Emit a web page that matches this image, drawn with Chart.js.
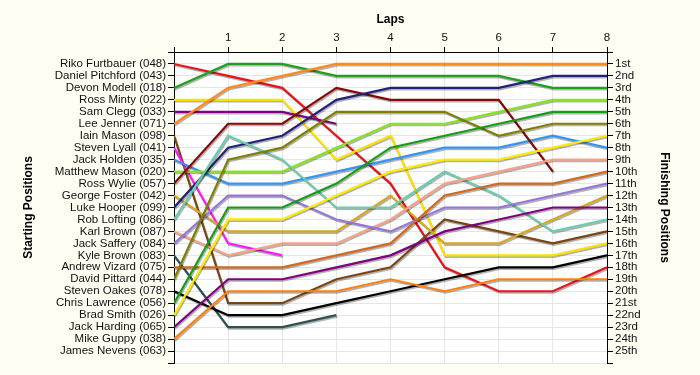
<!DOCTYPE html>
<html>
<head>
<meta charset="utf-8">
<script src="https://cdn.jsdelivr.net/npm/chart.js@4"></script>
<style>
  html, body { margin: 0; padding: 0; background: #FFFEF3; }
  #wrap { width: 700px; height: 375px; }
</style>
</head>
<body>
<div id="wrap"><canvas id="lapChart" width="700" height="375"></canvas></div>
<script>
// laps along the top axis
const laps = [0, 1, 2, 3, 4, 5, 6, 7, 8];

// drivers in starting order (left axis)
const startNames = [
    'Riko Furtbauer (048)', 'Daniel Pitchford (043)', 'Devon Modell (018)', 'Ross Minty (022)',
    'Sam Clegg (033)', 'Lee Jenner (071)', 'Iain Mason (098)', 'Steven Lyall (041)',
    'Jack Holden (035)', 'Matthew Mason (020)', 'Ross Wylie (057)', 'George Foster (042)',
    'Luke Hooper (099)', 'Rob Lofting (086)', 'Karl Brown (087)', 'Jack Saffery (084)',
    'Kyle Brown (083)', 'Andrew Vizard (075)', 'David Pittard (044)', 'Steven Oakes (078)',
    'Chris Lawrence (056)', 'Brad Smith (026)', 'Jack Harding (065)', 'Mike Guppy (038)',
    'James Nevens (063)'
];

// finishing position labels (right axis)
const finishLabels = [
    '1st', '2nd', '3rd', '4th', '5th', '6th', '7th', '8th', '9th', '10th', '11th', '12th', '13th',
    '14th', '15th', '16th', '17th', '18th', '19th', '20th', '21st', '22nd', '23rd', '24th', '25th'
];

// race position at each lap, same order as startNames (null = not running)
const positions = [
    [1, 2, 3, 7, 11, 18, 20, 20, 18],                                  // Riko Furtbauer
    [],                                                                // Daniel Pitchford
    [3, 1, 1, 2, 2, 2, 2, 3, 3],                                       // Devon Modell
    [4, 4, 4, 9, 7, 17, 17, 17, 16],                                   // Ross Minty
    [5, 5, 5, 6, null, null, null, null, null],                        // Sam Clegg
    [6, 3, 2, 1, 1, 1, 1, 1, 1],                                       // Lee Jenner
    [7, 21, 21, 19, 18, 14, 15, 16, 15],                               // Iain Mason
    [8, 16, 17, null, null, null, null, null, null],                   // Steven Lyall
    [9, 11, 11, 10, 9, 8, 8, 7, 8],                                    // Jack Holden
    [10, 10, 10, 8, 6, 6, 5, 4, 4],                                    // Matthew Mason
    [11, 6, 6, 3, 4, 4, 4, 10, null],                                  // Ross Wylie
    [12, 15, 15, 15, 12, 16, 16, 14, 12],                              // George Foster
    [13, 8, 7, 4, 3, 3, 3, 2, 2],                                      // Luke Hooper
    [14, 7, 9, 13, 13, 10, 12, 15, 14],                                // Rob Lofting
    [15, 17, 16, 16, 14, 11, 10, 9, 9],                                // Karl Brown
    [16, 12, 12, 14, 15, 13, 13, 12, 11],                              // Jack Saffery
    [17, 23, 23, 22, null, null, null, null, null],                    // Kyle Brown
    [18, 18, 18, 17, 16, 12, 11, 11, 10],                              // Andrew Vizard
    [19, 9, 8, 5, 5, 5, 7, 6, 6],                                      // David Pittard
    [20, 22, 22, 21, 20, 19, 18, 18, 17],                              // Steven Oakes
    [21, 13, 13, 11, 8, 7, 6, 5, 5],                                   // Chris Lawrence
    [22, 14, 14, 12, 10, 9, 9, 8, 7],                                  // Brad Smith
    [23, 19, 19, 18, 17, 15, 14, 13, 13],                              // Jack Harding
    [24, 20, 20, 20, 19, 20, 19, 19, 19],                              // Mike Guppy
    []                                                                 // James Nevens
];

const lineColors = [
    '#E8141A', '#999999', '#1FA01F', '#FFE000', '#800080', '#FF8A1C', '#7A4512', '#FF1AFF',
    '#3596F2', '#84E61A', '#880808', '#DAA520', '#22227A', '#6BCDAA', '#F7A285', '#9676DC',
    '#2F5050', '#D2691E', '#808000', '#000000', '#159E15', '#FFEA00', '#800080', '#FF8010',
    '#999999'
];

const datasets = startNames.map((name, i) => ({
    label: name,
    data: positions[i].map((p, j) => ({ x: laps[j], y: p })),
    borderColor: lineColors[i],
    borderWidth: 2.2,
    pointRadius: 0,
    tension: 0,
    fill: false,
    spanGaps: false
})).filter(d => d.data.length > 0).reverse();

// cream page with a white plot area
const bgPlugin = {
    id: 'bg',
    beforeDraw(chart) {
        const c = chart.ctx, a = chart.chartArea;
        c.save();
        c.fillStyle = '#FFFEF3';
        c.fillRect(0, 0, chart.width, chart.height);
        c.fillStyle = '#FFFFFF';
        c.fillRect(a.left, a.top, a.right - a.left, a.bottom - a.top);
        c.restore();
    }
};

// soft drop shadow under each line
const shadowPlugin = {
    id: 'shadow',
    beforeDatasetDraw(chart) {
        const c = chart.ctx;
        c.save();
        c.shadowColor = 'rgba(0,0,0,0.3)';
        c.shadowOffsetX = 1;
        c.shadowOffsetY = 1.5;
        c.shadowBlur = 0;
    },
    afterDatasetDraw(chart) {
        chart.ctx.restore();
    }
};

const tickFont = { family: 'Arial, "Liberation Sans"', size: 11.5 };
const titleFont = { family: 'Arial, "Liberation Sans"', size: 12, weight: 'bold' };

new Chart(document.getElementById('lapChart').getContext('2d'), {
    type: 'line',
    data: { datasets: datasets },
    plugins: [bgPlugin, shadowPlugin],
    options: {
        responsive: false,
        animation: false,
        layout: { padding: { bottom: 12 } },
        plugins: { legend: { display: false }, tooltip: { enabled: false } },
        scales: {
            x: {
                type: 'linear',
                position: 'top',
                min: 0, max: 8,
                ticks: { stepSize: 1, padding: 2, color: '#111', font: tickFont,
                    callback: v => v === 0 ? '' : v },
                grid: { color: '#E6E6E6', tickColor: '#000', tickLength: 5 },
                border: { color: '#000', width: 1 },
                title: { display: true, text: 'Laps', color: '#000', font: titleFont, padding: { top: 12, bottom: 0 } },
                afterFit: s => { s.height = 52; }
            },
            y: {
                type: 'linear',
                position: 'left',
                reverse: true,
                min: 0, max: 26,
                ticks: { stepSize: 1, autoSkip: false, padding: 2, color: '#111', font: tickFont,
                    callback: v => startNames[v - 1] || '' },
                grid: { color: '#E6E6E6', tickColor: '#000', tickLength: 6 },
                border: { color: '#000', width: 1 },
                title: { display: true, text: 'Starting Positions', color: '#000', font: titleFont, padding: { top: 21, bottom: 0 } },
                afterFit: s => { s.width = 174; }
            },
            y2: {
                type: 'linear',
                position: 'right',
                reverse: true,
                min: 0, max: 26,
                ticks: { stepSize: 1, autoSkip: false, padding: 2, color: '#111', font: tickFont,
                    callback: v => finishLabels[v - 1] || '' },
                grid: { drawOnChartArea: false, tickColor: '#000', tickLength: 6 },
                border: { color: '#000', width: 1 },
                title: { display: true, text: 'Finishing Positions', color: '#000', font: titleFont, padding: { top: 28, bottom: 0 } },
                afterFit: s => { s.width = 93; }
            }
        }
    }
});
</script>
</body>
</html>
